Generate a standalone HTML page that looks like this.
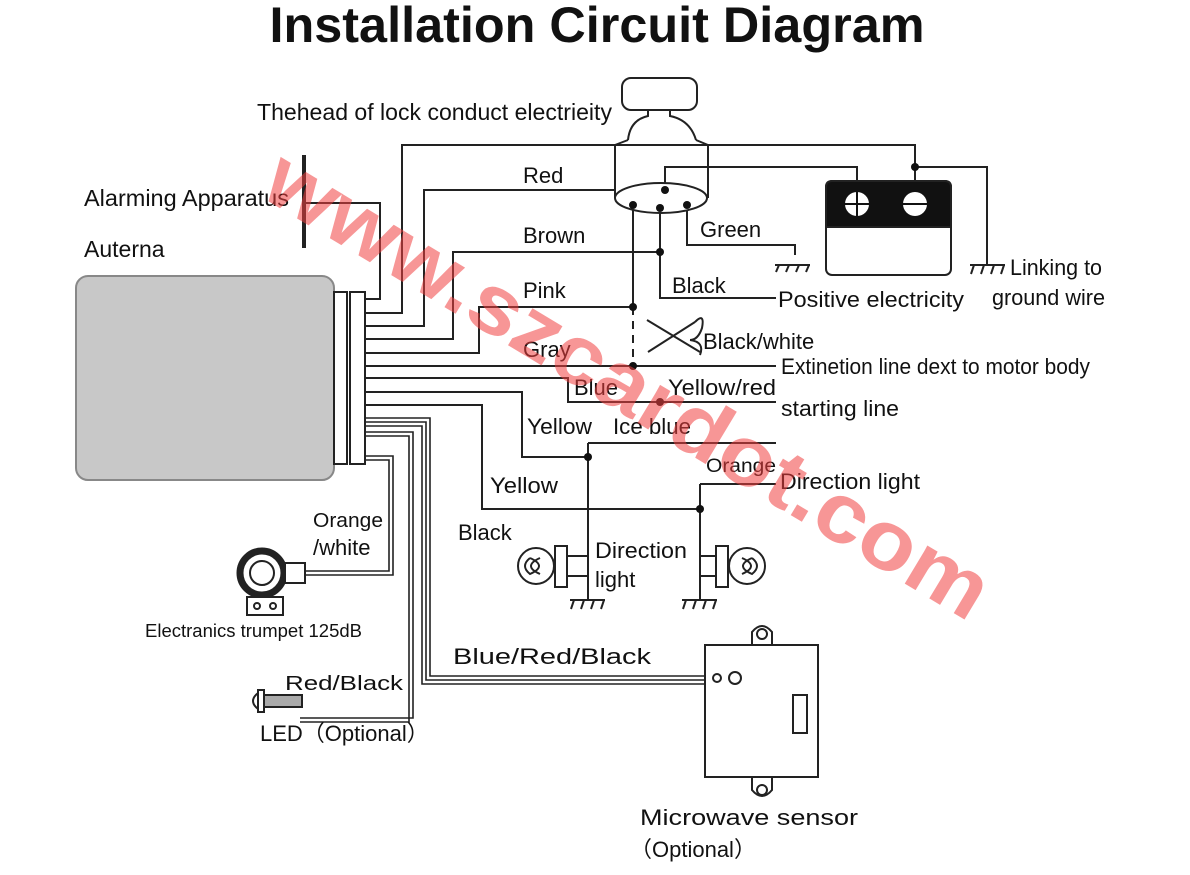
<!DOCTYPE html>
<html><head><style>
html,body{margin:0;padding:0;background:#fff;}
svg{display:block;font-family:"Liberation Sans",Arial,sans-serif;}
</style></head><body>
<svg width="1190" height="875" viewBox="0 0 1190 875" xmlns="http://www.w3.org/2000/svg">
<rect width="1190" height="875" fill="#fff"/>
<text x="597" y="42" text-anchor="middle" font-size="50" font-weight="bold" fill="#111" textLength="655" lengthAdjust="spacingAndGlyphs">Installation Circuit Diagram</text>

<g fill="none" stroke="#222" stroke-width="2">
<rect x="76" y="276" width="258" height="204" rx="12" fill="#c8c8c8" stroke="#888"/>
<rect x="334" y="292" width="13" height="172" fill="#fff"/>
<rect x="350" y="292" width="15" height="172" fill="#fff"/>
<line x1="304" y1="155" x2="304" y2="248" stroke-width="4"/>
<polyline points="304,203 380,203 380,299 365,299"/>
<polyline points="365,313 402,313 402,145 915,145 915,181"/>
<polyline points="915,167 987,167 987,265"/>
<polyline points="365,326 424,326 424,190 616,190"/>
<polyline points="665,190 665,167 857,167 857,181"/>
<polyline points="365,339 453,339 453,252 660,252"/>
<polyline points="365,353 479,353 479,307 633,307"/>
<line x1="365" y1="366" x2="776" y2="366"/>
<polyline points="365,378 568,378 568,402 776,402"/>
<polyline points="365,392 522,392 522,457 588,457"/>
<polyline points="365,405 482,405 482,509 700,509"/>
<polyline points="588,443 776,443"/>
<polyline points="700,484 776,484"/>
<line x1="633" y1="206" x2="633" y2="307"/>
<line x1="633" y1="307" x2="633" y2="366" stroke-dasharray="8,6"/>
<polyline points="660,208 660,298 776,298"/>
<polyline points="687,206 687,245 795,245 795,255"/>
<rect x="622" y="78" width="75" height="32" rx="9" fill="#fff"/>
<path d="M648 110 L648 116 Q630 120 628 140 M670 110 L670 116 Q690 120 696 140"/>
<path d="M628 140 L615 145 L615 198 M696 140 L708 145 L708 198"/>
<ellipse cx="661" cy="198" rx="46" ry="15" fill="#fff"/>
<rect x="826" y="181" width="125" height="94" rx="6" fill="#fff"/>
<path d="M826 227 L826 187 Q826 181 832 181 L945 181 Q951 181 951 187 L951 227 Z" fill="#111"/>
<circle cx="857" cy="204" r="12" fill="#fff" stroke="none"/>
<circle cx="915" cy="204" r="12" fill="#fff" stroke="none"/>
<line x1="845" y1="204" x2="927" y2="204" stroke="#111"/>
<line x1="857" y1="192" x2="857" y2="216" stroke="#111"/>
<path d="M775 265 L810 265 M779 265 L776 272 M789 265 L786 272 M799 265 L796 272 M809 265 L806 272"/>
<path d="M970 265 L1005 265 M974 265 L971 274 M984 265 L981 274 M994 265 L991 274 M1004 265 L1001 274"/>
<path d="M647 320 L700 352 M648 352 L695 322"/>
<path d="M695 322 Q705 312 702 328 Q698 340 690 340 M690 340 Q705 342 700 355"/>
<line x1="588" y1="443" x2="588" y2="600"/>
<polyline points="588,556 567,556"/><polyline points="588,576 567,576"/>
<rect x="555" y="546" width="12" height="41" fill="#fff"/>
<circle cx="536" cy="566" r="18" fill="#fff"/>
<path d="M530 558 Q548 566 530 574 Q520 566 530 558 M540 558 Q522 566 540 574"/>
<line x1="700" y1="484" x2="700" y2="600"/>
<polyline points="700,556 716,556"/><polyline points="700,576 716,576"/>
<rect x="716" y="546" width="12" height="41" fill="#fff"/>
<circle cx="747" cy="566" r="18" fill="#fff"/>
<path d="M752 558 Q734 566 752 574 Q762 566 752 558 M742 558 Q760 566 742 574"/>
<path d="M570 600 L605 600 M574 600 L571 609 M584 600 L581 609 M594 600 L591 609 M604 600 L601 609"/>
<path d="M682 600 L717 600 M686 600 L683 609 M696 600 L693 609 M706 600 L703 609 M716 600 L713 609"/>
<g stroke-width="1.6">
<polyline points="365,418 430,418 430,676 706,676"/>
<polyline points="365,422 426,422 426,680 706,680"/>
<polyline points="365,426 422,426 422,684 706,684"/>
<polyline points="365,432 413,432 413,718 300,718"/>
<polyline points="365,436 409,436 409,722 300,722"/>
<polyline points="365,456 393,456 393,575 305,575"/>
<polyline points="365,460 389,460 389,571 305,571"/>
</g>
<circle cx="262" cy="573" r="22" stroke-width="7"/>
<circle cx="262" cy="573" r="12"/>
<rect x="285" y="563" width="20" height="20" fill="#fff"/>
<rect x="247" y="597" width="36" height="18" fill="#fff"/>
<circle cx="257" cy="606" r="3"/><circle cx="273" cy="606" r="3"/>
<rect x="262" y="695" width="40" height="12" fill="#aaa"/>
<rect x="258" y="690" width="6" height="22" fill="#fff"/>
<path d="M258 693 Q248 701 258 709"/>
<rect x="705" y="645" width="113" height="132" fill="#fff"/>
<path d="M752 645 L752 632 Q762 620 772 632 L772 645"/>
<circle cx="762" cy="634" r="5"/>
<path d="M752 777 L752 790 Q762 802 772 790 L772 777"/>
<circle cx="762" cy="790" r="5"/>
<circle cx="717" cy="678" r="4"/><circle cx="735" cy="678" r="6"/>
<rect x="793" y="695" width="14" height="38"/>
</g>

<g fill="#111">
<circle cx="665" cy="190" r="4"/><circle cx="633" cy="205" r="4"/><circle cx="660" cy="208" r="4"/><circle cx="687" cy="205" r="4"/>
<circle cx="660" cy="252" r="4"/><circle cx="633" cy="307" r="4"/><circle cx="633" cy="366" r="4"/>
<circle cx="660" cy="402" r="4"/><circle cx="588" cy="457" r="4"/><circle cx="700" cy="509" r="4"/><circle cx="915" cy="167" r="4"/>
</g>

<g font-size="22" fill="#111">
<text x="257" y="120" font-size="23" textLength="355" lengthAdjust="spacingAndGlyphs">Thehead of lock conduct electrieity</text>
<text x="84" y="206" font-size="23" textLength="205" lengthAdjust="spacingAndGlyphs">Alarming Apparatus</text>
<text x="84" y="257" font-size="23">Auterna</text>
<text x="523" y="183">Red</text>
<text x="523" y="243">Brown</text>
<text x="523" y="298">Pink</text>
<text x="523" y="357">Gray</text>
<text x="700" y="237">Green</text>
<text x="672" y="293">Black</text>
<text x="778" y="307" textLength="186" lengthAdjust="spacingAndGlyphs">Positive electricity</text>
<text x="1010" y="275" textLength="92" lengthAdjust="spacingAndGlyphs">Linking to</text>
<text x="992" y="305" textLength="113" lengthAdjust="spacingAndGlyphs">ground wire</text>
<text x="703" y="349">Black/white</text>
<text x="781" y="374" textLength="309" lengthAdjust="spacingAndGlyphs">Extinetion line dext to motor body</text>
<text x="574" y="395">Blue</text>
<text x="668" y="395" textLength="108" lengthAdjust="spacingAndGlyphs">Yellow/red</text>
<text x="781" y="416" textLength="118" lengthAdjust="spacingAndGlyphs">starting line</text>
<text x="527" y="434" textLength="65" lengthAdjust="spacingAndGlyphs">Yellow</text>
<text x="613" y="434" textLength="78" lengthAdjust="spacingAndGlyphs">Ice blue</text>
<text x="706" y="472" font-size="19" textLength="70" lengthAdjust="spacingAndGlyphs">Orange</text>
<text x="780" y="489" textLength="140" lengthAdjust="spacingAndGlyphs">Direction light</text>
<text x="490" y="493" textLength="68" lengthAdjust="spacingAndGlyphs">Yellow</text>
<text x="458" y="540">Black</text>
<text x="595" y="558" textLength="92" lengthAdjust="spacingAndGlyphs">Direction</text>
<text x="595" y="587">light</text>
<text x="313" y="527" font-size="20" textLength="70" lengthAdjust="spacingAndGlyphs">Orange</text>
<text x="313" y="555">/white</text>
<text x="145" y="637" font-size="18" textLength="217" lengthAdjust="spacingAndGlyphs">Electranics trumpet 125dB</text>
<text x="453" y="664" textLength="198" lengthAdjust="spacingAndGlyphs">Blue/Red/Black</text>
<text x="285" y="690" font-size="20" textLength="118" lengthAdjust="spacingAndGlyphs">Red/Black</text>
<text x="260" y="741">LED（Optional）</text>
<text x="640" y="825" textLength="218" lengthAdjust="spacingAndGlyphs">Microwave  sensor</text>
<text x="630" y="857">（Optional）</text>
</g>

<text x="0" y="0" transform="translate(258,195) rotate(31)" font-size="84" font-weight="bold" fill="#f04040" fill-opacity="0.55" textLength="830" lengthAdjust="spacingAndGlyphs">www.szcardot.com</text>
</svg>
</body></html>
